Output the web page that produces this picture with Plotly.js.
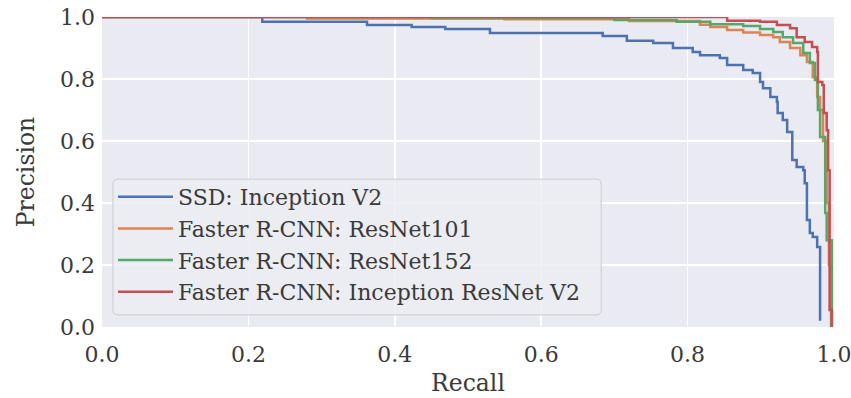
<!DOCTYPE html>
<html>
<head>
<meta charset="utf-8">
<script src="https://cdn.plot.ly/plotly-3.0.1.min.js"></script>
<style>html,body{margin:0;padding:0;background:#fff;}#chart{width:851px;height:398px;}</style>
</head>
<body>
<div id="chart"></div>
<script>
// Series names
const seriesNames = [
  "SSD: Inception V2",
  "Faster R-CNN: ResNet101",
  "Faster R-CNN: ResNet152",
  "Faster R-CNN: Inception ResNet V2"
];
// SSD: Inception V2
const ssdRecall = [0, 0.219, 0.362, 0.423, 0.469, 0.530, 0.684, 0.717, 0.753, 0.780, 0.807, 0.817, 0.844, 0.854, 0.876, 0.889, 0.899, 0.903, 0.913, 0.922, 0.923, 0.930, 0.936, 0.943, 0.949, 0.958, 0.960, 0.963, 0.963, 0.967, 0.971, 0.977, 0.981, 0.981];
const ssdPrecision = [1.0, 0.985, 0.974, 0.968, 0.961, 0.948, 0.939, 0.923, 0.916, 0.900, 0.887, 0.877, 0.868, 0.845, 0.829, 0.819, 0.790, 0.770, 0.742, 0.726, 0.690, 0.668, 0.629, 0.539, 0.516, 0.506, 0.464, 0.452, 0.345, 0.303, 0.290, 0.258, 0.242, 0.020];
// Faster R-CNN: ResNet101
const r101Recall = [0, 0.28, 0.55, 0.72, 0.817, 0.831, 0.854, 0.876, 0.899, 0.917, 0.926, 0.940, 0.954, 0.963, 0.971, 0.977, 0.981, 0.985, 0.990, 0.993, 0.996];
const r101Precision = [1.0, 0.995, 0.993, 0.987, 0.975, 0.968, 0.958, 0.950, 0.942, 0.935, 0.919, 0.900, 0.877, 0.855, 0.806, 0.742, 0.700, 0.600, 0.400, 0.200, 0.0];
// Faster R-CNN: ResNet152
const r152Recall = [0, 0.45, 0.70, 0.785, 0.831, 0.876, 0.899, 0.917, 0.930, 0.944, 0.958, 0.967, 0.974, 0.978, 0.981, 0.988, 0.988, 0.990, 0.997];
const r152Precision = [1.0, 0.997, 0.990, 0.985, 0.977, 0.971, 0.961, 0.952, 0.935, 0.916, 0.884, 0.852, 0.797, 0.700, 0.613, 0.581, 0.368, 0.280, 0.0];
// Faster R-CNN: Inception ResNet V2
const irv2Recall = [0, 0.80, 0.854, 0.899, 0.922, 0.940, 0.949, 0.960, 0.970, 0.977, 0.978, 0.984, 0.986, 0.990, 0.992, 0.994, 0.997];
const irv2Precision = [1.0, 1.0, 0.988, 0.985, 0.974, 0.964, 0.935, 0.919, 0.903, 0.887, 0.790, 0.781, 0.690, 0.635, 0.506, 0.055, 0.0];
// Axis ticks
const tickVals = [0, 0.2, 0.4, 0.6, 0.8, 1.0];
const tickText = ["0.0", "0.2", "0.4", "0.6", "0.8", "1.0"];

const colors = ["#4C72B0", "#DD8452", "#55A868", "#C44E52"];
const xs = [ssdRecall, r101Recall, r152Recall, irv2Recall];
const ys = [ssdPrecision, r101Precision, r152Precision, irv2Precision];
const traces = seriesNames.map((n, i) => ({
  x: xs[i], y: ys[i], name: n, type: "scatter", mode: "lines",
  line: {color: colors[i], width: 2.5, shape: "hv"}, cliponaxis: true
}));

const txt = "#3a3a3a";
const layout = {
  width: 851, height: 398,
  margin: {l: 102, r: 17, t: 17, b: 71},
  paper_bgcolor: "#ffffff", plot_bgcolor: "#EAEAF2",
  font: {size: 22, family: "DejaVu Serif", color: txt},
  showlegend: true,
  xaxis: {
    range: [0, 1.0], tickvals: tickVals, ticktext: tickText,
    showgrid: true, gridcolor: "#ffffff", gridwidth: 1.5, zeroline: false,
    showline: false, ticks: "", ticklabelstandoff: 12, ticklabeloverflow: "allow",
    tickfont: {size: 22, family: "DejaVu Serif", color: txt},
    title: {text: "Recall", font: {size: 23.5, family: "DejaVu Serif", color: txt}, standoff: 8}
  },
  yaxis: {
    range: [0, 1.0], tickvals: tickVals, ticktext: tickText,
    showgrid: true, gridcolor: "#ffffff", gridwidth: 1.5, zeroline: false,
    showline: false, ticks: "", ticklabelstandoff: 6, ticklabeloverflow: "allow",
    tickfont: {size: 22, family: "DejaVu Serif", color: txt},
    title: {text: "Precision", font: {size: 23.5, family: "DejaVu Serif", color: txt}, standoff: 18}
  },
  legend: {
    x: 0.015, y: 0.487, xanchor: "left", yanchor: "top",
    bgcolor: "rgba(0,0,0,0)", borderwidth: 0,
    font: {size: 22, family: "DejaVu Serif", color: txt},
    itemwidth: 55, tracegroupgap: 0
  },
  shapes: [{
    type: "path", xref: "paper", yref: "paper", layer: "above",
    path: "M 0.022 0.039 L 0.675 0.039 Q 0.682 0.039 0.682 0.055 L 0.682 0.461 Q 0.682 0.477 0.675 0.477 L 0.022 0.477 Q 0.015 0.477 0.015 0.461 L 0.015 0.055 Q 0.015 0.039 0.022 0.039 Z",
    fillcolor: "rgba(236,236,243,0.85)", line: {color: "rgba(200,200,205,0.9)", width: 1}
  }]
};
Plotly.newPlot("chart", traces, layout, {displayModeBar: false, staticPlot: true});
</script>
</body>
</html>
